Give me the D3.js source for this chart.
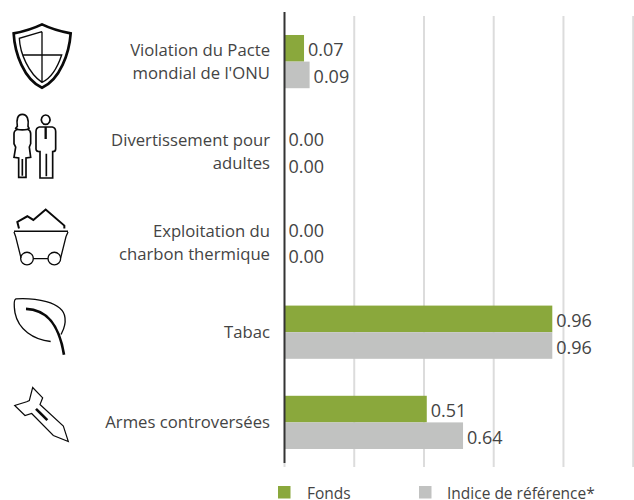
<!DOCTYPE html>
<html>
<head>
<meta charset="utf-8">
<script src="https://d3js.org/d3.v7.min.js"></script>
<style>
  body { margin: 0; background: #fff; }
  text { font-family: "Open Sans", sans-serif; fill: #444; }
</style>
</head>
<body>
<svg id="drawing_region"></svg>
<script>
const categories = ["Violation du Pacte\nmondial de l'ONU", "Divertissement pour\nadultes", "Exploitation du\ncharbon thermique", "Tabac", "Armes controversées"];
const seriesNames = ["Fonds", "Indice de référence*"];
const fonds = [0.07, 0.00, 0.00, 0.96, 0.51];
const indice = [0.09, 0.00, 0.00, 0.96, 0.64];
const gridTicks = [0.25, 0.5, 0.75, 1, 1.25];
const colors = ["#8aa83c", "#c1c2c1"];

const width = 634, height = 500;

const svg = d3.select("#drawing_region").attr("width", width).attr("height", height);

const x = d3.scaleLinear().domain([0, 1.25]).range([284.5, 633.2]);
const y = d3.scaleBand().domain(categories).range([16.5, 467.5]).paddingInner(0.41).paddingOuter(0.205);
const ySeries = d3.scaleBand().domain(seriesNames).range([0, y.bandwidth()]);

// grid
svg.append("g").selectAll("line")
    .data(gridTicks)
    .enter()
    .append("line")
    .attr("x1", d => x(d))
    .attr("x2", d => x(d))
    .attr("y1", 16)
    .attr("y2", 467)
    .attr("stroke", "#dcdcdc")
    .attr("stroke-width", 2);

// one group per series
[fonds, indice].forEach((values, s) => {
    const g = svg.append("g");
    g.selectAll("rect")
        .data(values)
        .enter()
        .append("rect")
        .attr("x", x(0))
        .attr("y", (d, i) => y(categories[i]) + ySeries(seriesNames[s]))
        .attr("width", d => x(d) - x(0))
        .attr("height", ySeries.bandwidth())
        .attr("fill", colors[s]);
    g.selectAll("text")
        .data(values)
        .enter()
        .append("text")
        .attr("x", d => x(d) + 4)
        .attr("y", (d, i) => y(categories[i]) + ySeries(seriesNames[s]) + ySeries.bandwidth() / 2 + 8)
        .attr("font-size", 18)
        .text(d => d.toFixed(2));
});

// axis line
svg.append("line")
    .attr("x1", x(0)).attr("x2", x(0))
    .attr("y1", 12).attr("y2", 463)
    .attr("stroke", "#333")
    .attr("stroke-width", 2);
svg.append("line")
    .attr("x1", x(0)).attr("x2", x(0))
    .attr("y1", 463).attr("y2", 467)
    .attr("stroke", "#dcdcdc")
    .attr("stroke-width", 2);

// category labels
categories.forEach(c => {
    const lines = c.split("\n");
    const mid = y(c) + y.bandwidth() / 2;
    const t = svg.append("text")
        .attr("text-anchor", "end")
        .attr("font-size", 16.7);
    lines.forEach((l, i) => {
        t.append("tspan")
            .attr("x", 270)
            .attr("y", mid + 6 + (i - (lines.length - 1) / 2) * 23)
            .text(l);
    });
});

// icons, paths are in 3x units and hung from the row they belong to
const icons = [
    { row: 0, dy: -21, items: [
        { d: "M126 44C155 58 185 66 212 71C208 130 180 210 126 234C72 210 44 130 41 71C68 66 97 58 126 44Z", w: 8 },
        { d: "M126 66L58 86C60 130 85 190 126 218C155 205 172 175 185 136L70 136M126 66L126 218", w: 4 }
    ]},
    { row: 0, dy: -21, items: [
        { d: "M137 316A13 14 0 1 0 137.1 316Z", w: 5 },
        { d: "M137 352L137 388", w: 7 },
        { d: "M118 352L157 352Q167 354 167 366L167 418Q167 426 158 426L158 505L120 505L120 426Q108 426 108 418L108 366Q108 354 118 352ZM139 432L139 500", w: 5 },
        { d: "M67 314C52 314 49 330 52 350L47 356C50 362 84 362 87 356L84 350C87 330 82 314 67 314Z", w: 5 },
        { d: "M54 358Q42 362 42 372L42 402L47 412L42 443L56 445L56 503L78 503L78 445L92 443L88 412L92 402L92 372Q92 362 82 358M67 448L67 498", w: 5 }
    ]},
    { row: 2, dy: 0, items: [
        { d: "M57 117L52 97L82 80L100 91L137 60L193 108L193 117", w: 6 },
        { d: "M42 125L204 125", w: 5 },
        { d: "M42 127L47 141L63 205M204 127L198 141L182 205M100 207L144 207", w: 4 },
        { d: "M62 207A19 19 0 1 0 100 207A19 19 0 1 0 62 207ZM144 207A19 19 0 1 0 182 207A19 19 0 1 0 144 207Z", w: 4 }
    ]},
    { row: 3, dy: 0, items: [
        { d: "M152 156C100 150 55 120 45 70C42 50 40 30 48 28C100 25 190 35 195 85C198 110 188 125 183 135", w: 4 },
        { d: "M78 58C130 60 175 90 192 196", w: 8 }
    ]},
    { row: 4, dy: 0, items: [
        { d: "M98 294L128 325L120 345L190 410L205 456L160 438L95 372L75 378L44 348L80 337L88 333Z", w: 3.5 },
        { d: "M108 358L142 392", w: 8 }
    ]}
];
// top of the crop each icon was measured in, relative to its row's band
const iconOrigins = [10 - 35.3, 10 - 35.3, 190 - 215.8, 290 - 306.1, 290 - 396.3];

icons.forEach((icon, k) => {
    const g = svg.append("g")
        .attr("transform", `translate(0, ${y(categories[icon.row]) + iconOrigins[k]}) scale(${1 / 3})`);
    g.selectAll("path")
        .data(icon.items)
        .enter()
        .append("path")
        .attr("d", d => d.d)
        .attr("fill", "none")
        .attr("stroke", "#0a0a0a")
        .attr("stroke-width", d => d.w);
});

// legend
const legendBox = [278, 419];
const legendText = [307, 447];
seriesNames.forEach((name, i) => {
    svg.append("rect")
        .attr("x", legendBox[i])
        .attr("y", 486)
        .attr("width", 12.5)
        .attr("height", 12.5)
        .attr("fill", colors[i]);
    svg.append("text")
        .attr("x", legendText[i])
        .attr("y", 498.5)
        .attr("font-size", 15.5)
        .text(name);
});
</script>
</body>
</html>
